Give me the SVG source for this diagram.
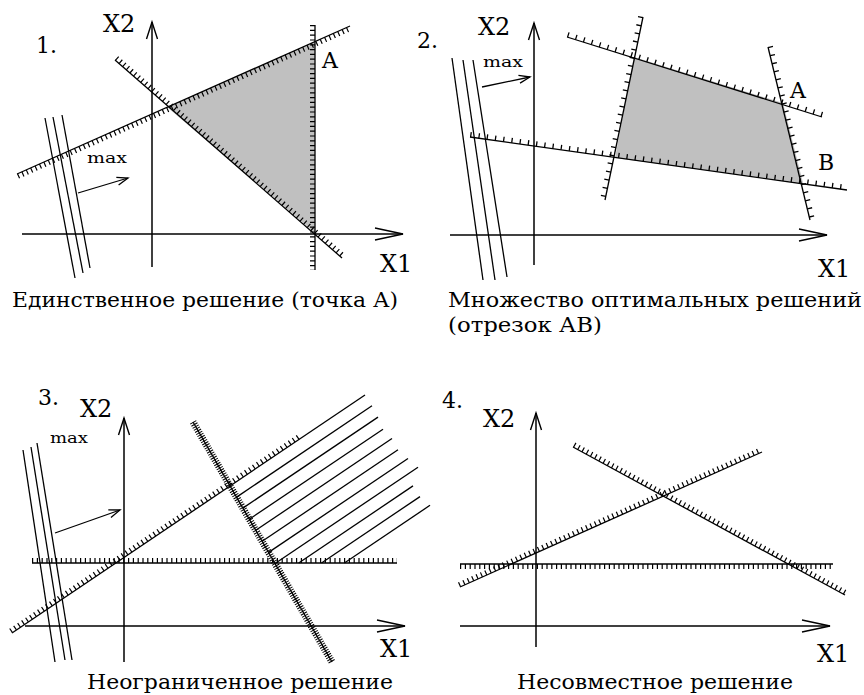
<svg xmlns="http://www.w3.org/2000/svg" width="864" height="695" viewBox="0 0 864 695">
<style>
.bg{fill:#fff}
.ax{stroke:#000;stroke-width:1.5;fill:none}
.ln{stroke:#000;stroke-width:1.3;fill:none}
.h{stroke:#000;stroke-width:5;stroke-dasharray:1.2 3.6;fill:none}
.h2{stroke:#000;stroke-width:5;stroke-dasharray:1.3 7;fill:none}
.hd{stroke:#000;stroke-width:7;stroke-dasharray:1 1.4;fill:none}
.reg{fill:#c0c0c0;stroke:none}
.lab{font-family:"DejaVu Serif","Liberation Serif",serif;font-size:24px;fill:#000}
.num{font-family:"DejaVu Serif","Liberation Serif",serif;font-size:22px;fill:#000}
.mx{font-family:"DejaVu Serif","Liberation Serif",serif;font-size:15px;fill:#000}
.cap{font-family:"DejaVu Serif","Liberation Serif",serif;font-size:21px;fill:#000}
</style>
<defs>
<marker id="ay" markerUnits="userSpaceOnUse" markerWidth="40" markerHeight="20" refX="0" refY="0" viewBox="-20 -10 22 20" orient="auto" overflow="visible">
<path d="M-17,-5.5 L0,0 L-17,5.5" fill="none" stroke="#000" stroke-width="1.4"/>
</marker>
<marker id="axm" markerUnits="userSpaceOnUse" markerWidth="40" markerHeight="20" refX="0" refY="0" viewBox="-30 -10 32 20" orient="auto" overflow="visible">
<path d="M-28,-6 L0,0 L-28,6" fill="none" stroke="#000" stroke-width="1.4"/>
</marker>
<marker id="am" markerUnits="userSpaceOnUse" markerWidth="20" markerHeight="12" refX="0" refY="0" viewBox="-12 -6 14 12" orient="auto" overflow="visible">
<path d="M-11,-4 L0,0 L-11,4" fill="none" stroke="#000" stroke-width="1.3"/>
</marker>
</defs>
<rect class="bg" x="0" y="0" width="864" height="695"/>

<g id="panel1">
<polygon class="reg" points="167,107 315,42 315,233"/>
<g id="p1-lines">
<line class="ax" x1="152" y1="267" x2="152" y2="22" marker-end="url(#ay)"/>
<line class="ax" x1="22" y1="234" x2="403" y2="234" marker-end="url(#axm)"/>
<line class="ln" x1="17" y1="174" x2="350" y2="26"/>
<line class="h" x1="18" y1="176.3" x2="351" y2="28.3"/>
<line class="ln" x1="115" y1="60" x2="342" y2="258"/>
<line class="h" x1="116.6" y1="58.1" x2="343.6" y2="256.1"/>
<line class="ln" x1="315" y1="25" x2="315" y2="270"/>
<line class="h" x1="312.5" y1="25" x2="312.5" y2="270"/>
<line class="ln" x1="45" y1="118" x2="75" y2="278"/>
<line class="ln" x1="53" y1="117" x2="83" y2="273"/>
<line class="ln" x1="62" y1="115" x2="90" y2="268"/>
<line class="ln" x1="78" y1="193" x2="128" y2="178" marker-end="url(#am)"/>
</g>
<text class="num" x="36" y="53">1.</text>
<text class="lab" x="103" y="32">X2</text>
<text class="num" x="322" y="68">A</text>
<text class="lab" x="380" y="272">X1</text>
<text class="mx" x="87" y="163" textLength="40" lengthAdjust="spacingAndGlyphs">max</text>
<text class="cap" x="12" y="307" textLength="386" lengthAdjust="spacingAndGlyphs">Единственное решение (точка А)</text>
</g>

<g id="panel2">
<polygon class="reg" points="634,57 783,103 803,183 615,158"/>
<g id="p2-lines">
<line class="ax" x1="534" y1="265" x2="534" y2="23" marker-end="url(#ay)"/>
<line class="ax" x1="450" y1="235" x2="827" y2="235" marker-end="url(#axm)"/>
<line class="ln" x1="567" y1="37" x2="822" y2="117"/>
<line class="h2" x1="567.7" y1="34.6" x2="822.7" y2="114.6"/>
<line class="ln" x1="470" y1="137" x2="847" y2="190"/>
<line class="h2" x1="470.3" y1="134.5" x2="847.3" y2="187.5"/>
<line class="ln" x1="643" y1="17" x2="605" y2="200"/>
<line class="h2" x1="640.6" y1="16.5" x2="602.6" y2="199.5"/>
<line class="ln" x1="768" y1="47" x2="810" y2="220"/>
<line class="h2" x1="770.4" y1="46.4" x2="812.4" y2="219.4"/>
<line class="ln" x1="452" y1="58" x2="483" y2="280"/>
<line class="ln" x1="463" y1="60" x2="495" y2="280"/>
<line class="ln" x1="473" y1="60" x2="507" y2="277"/>
<line class="ln" x1="482" y1="87" x2="530" y2="77" marker-end="url(#am)"/>
</g>
<text class="num" x="417" y="48">2.</text>
<text class="lab" x="478" y="35">X2</text>
<text class="mx" x="483" y="67" textLength="40" lengthAdjust="spacingAndGlyphs">max</text>
<text class="num" x="790" y="98">A</text>
<text class="num" x="818" y="170">B</text>
<text class="lab" x="818" y="277">X1</text>
<text class="cap" x="448" y="307" textLength="414" lengthAdjust="spacingAndGlyphs">Множество оптимальных решений</text>
<text class="cap" x="448" y="332" textLength="154" lengthAdjust="spacingAndGlyphs">(отрезок АВ)</text>
</g>

<g id="panel3">
<g id="p3-lines">
<line class="ax" x1="124" y1="662" x2="124" y2="418" marker-end="url(#ay)"/>
<line class="ax" x1="25" y1="626" x2="405" y2="626" marker-end="url(#axm)"/>
<line class="ln" x1="32" y1="563" x2="397" y2="563"/>
<line class="h" x1="32" y1="560.5" x2="397" y2="560.5"/>
<line class="ln" x1="12" y1="633" x2="365" y2="395"/>
<line class="h" x1="10.6" y1="630.9" x2="300.6" y2="435.4"/>
<line class="ln" x1="193" y1="422" x2="332" y2="662"/>
<line class="hd" x1="193" y1="422" x2="332" y2="662"/>
<line class="ln" x1="236.6" y1="497.1" x2="372" y2="405.8"/>
<line class="ln" x1="242.9" y1="508.1" x2="378" y2="417.1"/>
<line class="ln" x1="249.3" y1="519.2" x2="383" y2="429.2"/>
<line class="ln" x1="255.8" y1="530.3" x2="392" y2="438.5"/>
<line class="ln" x1="262.2" y1="541.3" x2="398" y2="449.8"/>
<line class="ln" x1="268.6" y1="552.4" x2="408" y2="458.5"/>
<line class="ln" x1="275.8" y1="563" x2="418" y2="467.2"/>
<line class="ln" x1="298.7" y1="563" x2="413" y2="485.9"/>
<line class="ln" x1="321.5" y1="563" x2="420" y2="496.6"/>
<line class="ln" x1="344.4" y1="563" x2="430" y2="505.3"/>
<line class="ln" x1="23" y1="450" x2="55" y2="662"/>
<line class="ln" x1="31" y1="447" x2="65" y2="660"/>
<line class="ln" x1="37" y1="443" x2="72" y2="660"/>
<line class="ln" x1="55" y1="533" x2="120" y2="510" marker-end="url(#am)"/>
</g>
<text class="num" x="38" y="405">3.</text>
<text class="lab" x="80" y="417">X2</text>
<text class="mx" x="50" y="443" textLength="38" lengthAdjust="spacingAndGlyphs">max</text>
<text class="lab" x="380" y="657">X1</text>
<text class="cap" x="87" y="689" textLength="306" lengthAdjust="spacingAndGlyphs">Неограниченное решение</text>
</g>

<g id="panel4">
<g id="p4-lines">
<line class="ax" x1="536" y1="647" x2="536" y2="413" marker-end="url(#ay)"/>
<line class="ax" x1="460" y1="626" x2="830" y2="626" marker-end="url(#axm)"/>
<line class="ln" x1="460" y1="564" x2="833" y2="564"/>
<line class="h" x1="460" y1="566.5" x2="833" y2="566.5"/>
<line class="ln" x1="460" y1="587" x2="762" y2="452"/>
<line class="h" x1="459" y1="584.7" x2="761" y2="449.7"/>
<line class="ln" x1="573" y1="447" x2="845" y2="595"/>
<line class="h" x1="574.2" y1="444.8" x2="846.2" y2="592.8"/>
</g>
<text class="num" x="442" y="408">4.</text>
<text class="lab" x="483" y="427">X2</text>
<text class="lab" x="817" y="662">X1</text>
<text class="cap" x="517" y="689" textLength="276" lengthAdjust="spacingAndGlyphs">Несовместное решение</text>
</g>
</svg>
